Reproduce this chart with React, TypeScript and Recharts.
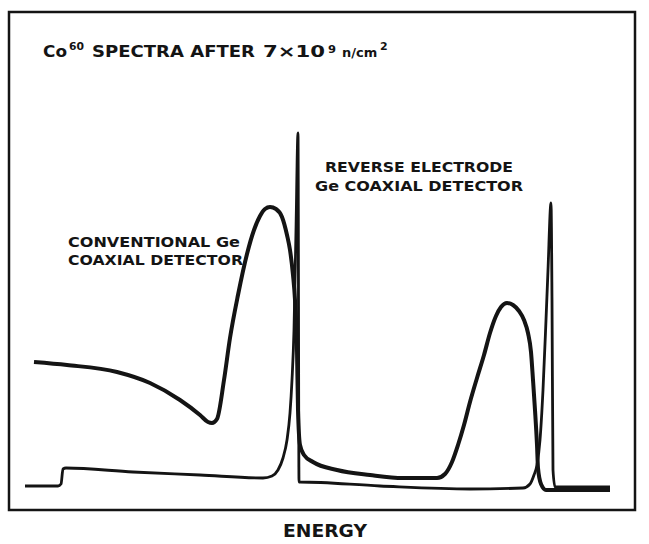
import React from "react";
import { LineChart, Line, XAxis, YAxis, ReferenceArea, Customized } from "recharts";

// Channel (energy) axis: 0..626, counts axis: 0..498 (arbitrary units)
const conventionalChannels = [
  25, 58, 108, 141, 171, 191, 199, 203, 208, 215, 221, 229, 238, 245, 251, 256, 261, 267, 273, 278,
  281, 284, 286, 288, 289, 291, 295, 304, 328, 361, 394, 428, 436, 443, 449, 455, 461, 468, 475, 481,
  487, 492, 498, 504, 510, 515, 519, 522, 524, 526, 528, 529, 532, 537, 571, 601,
];
const conventionalCounts = [
  148, 145, 138, 127, 110, 95, 88, 87, 91, 130, 172, 215, 256, 280, 294, 301, 303, 301, 293, 275,
  260, 235, 210, 160, 100, 65, 55, 48, 40, 35, 32, 32, 36, 48, 65, 85, 108, 132, 155, 177,
  194, 203, 207, 205, 199, 190, 177, 158, 130, 100, 65, 42, 26, 20, 20, 20,
];

const reverseChannels = [
  16, 49, 52, 54, 57, 124, 191, 254, 263, 269, 274, 278, 281, 283, 285, 287, 289, 290, 291, 371,
  461, 514, 521, 525, 528, 531, 534, 537, 539, 542, 543, 544, 546, 571, 601,
];
const reverseCounts = [
  24, 24, 26, 41, 42, 38, 35, 32, 34, 40, 52, 70, 97, 130, 180, 280, 377, 28, 28, 24,
  21, 22, 26, 35, 45, 70, 120, 190, 240, 307, 210, 40, 23, 23, 23,
];

const titleParts = { base: "Co", iso: "60", main: "SPECTRA AFTER", dose: "7×10", exp: "9", unit: "n/cm", sq: "2" };
const conventionalLabel = ["CONVENTIONAL Ge", "COAXIAL DETECTOR"];
const reverseLabel = ["REVERSE ELECTRODE", "Ge COAXIAL DETECTOR"];
const xAxisTitle = "ENERGY";

const conventionalData = conventionalChannels.map((c, i) => ({ ch: c, conventional: conventionalCounts[i] }));
const reverseData = reverseChannels.map((c, i) => ({ ch: c, reverse: reverseCounts[i] }));

const INK = "#141414";
const FONT = "'DejaVu Sans', Verdana, sans-serif";

const T = (props: any) => (
  <text
    fill={INK}
    fontFamily={FONT}
    fontWeight="bold"
    lengthAdjust="spacingAndGlyphs"
    {...props}
  />
);

const Annotations = () => (
  <g>
    <T x={43} y={57} fontSize={15} textLength={24}>{titleParts.base}</T>
    <T x={69} y={50} fontSize={11} textLength={15}>{titleParts.iso}</T>
    <T x={92} y={57} fontSize={15} textLength={163}>{titleParts.main}</T>
    <T x={263} y={57} fontSize={15} textLength={62}>{titleParts.dose}</T>
    <T x={328} y={53} fontSize={11} textLength={8}>{titleParts.exp}</T>
    <T x={342} y={57} fontSize={13}>{titleParts.unit}</T>
    <T x={380} y={50} fontSize={11}>{titleParts.sq}</T>

    <T x={68} y={247} fontSize={14} textLength={172}>{conventionalLabel[0]}</T>
    <T x={68} y={265} fontSize={14} textLength={175}>{conventionalLabel[1]}</T>

    <T x={325} y={172} fontSize={14} textLength={188}>{reverseLabel[0]}</T>
    <T x={315} y={191} fontSize={14} textLength={208}>{reverseLabel[1]}</T>

    <T x={283} y={537} fontSize={18} textLength={84}>{xAxisTitle}</T>
  </g>
);

export default function App() {
  return (
    <div style={{ position: "absolute", left: 0, top: 0, width: 649, height: 544, background: "#fff" }}>
      <LineChart
        width={649}
        height={544}
        margin={{ top: 12, left: 9, right: 14, bottom: 34 }}
      >
        <XAxis type="number" dataKey="ch" domain={[0, 626]} hide allowDuplicatedCategory={false} />
        <YAxis type="number" domain={[0, 498]} hide />
        <ReferenceArea
          x1={0}
          x2={626}
          y1={0}
          y2={498}
          fill="none"
          fillOpacity={0}
          stroke={INK}
          strokeWidth={2.5}
          ifOverflow="visible"
        />
        <Line
          data={conventionalData}
          dataKey="conventional"
          type="monotone"
          stroke={INK}
          strokeWidth={4}
          dot={false}
          isAnimationActive={false}
        />
        <Line
          data={reverseData}
          dataKey="reverse"
          type="monotone"
          stroke={INK}
          strokeWidth={2.8}
          dot={false}
          isAnimationActive={false}
        />
        <Customized component={Annotations} />
      </LineChart>
    </div>
  );
}
